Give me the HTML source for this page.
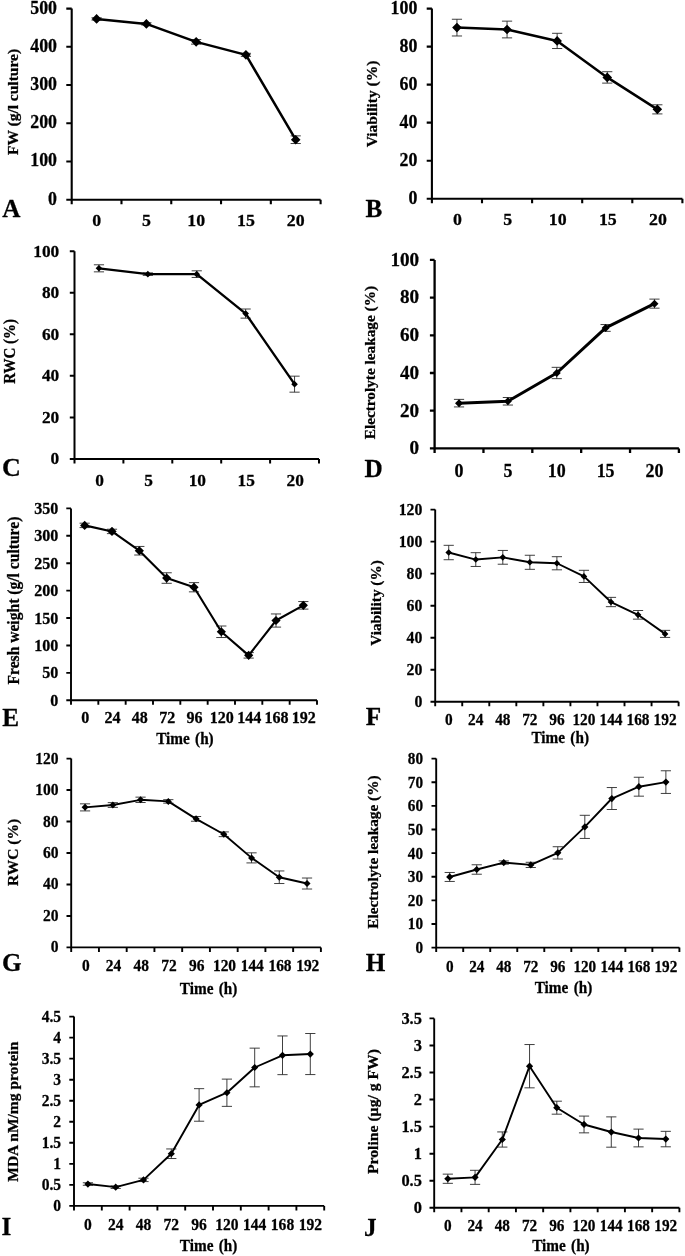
<!DOCTYPE html>
<html lang="en"><head><meta charset="utf-8"><title>Figure</title>
<style>html,body{margin:0;padding:0;background:#fff}svg{display:block;filter:blur(0.5px)}</style>
</head><body>
<svg width="685" height="1256" viewBox="0 0 685 1256" font-family='"Liberation Serif", serif' font-weight="bold" fill="#000" stroke="#000" stroke-width="0.28" stroke-linejoin="round">
<g id="panelA">
<path d="M71.70 8.60V199.70H320.60" fill="none" stroke="#000" stroke-width="2.1"/>
<text transform="translate(57.00 204.61) scale(0.95 1)" text-anchor="end" font-size="18.8">0</text>
<text transform="translate(57.00 166.39) scale(0.95 1)" text-anchor="end" font-size="18.8">100</text>
<text transform="translate(57.00 128.17) scale(0.95 1)" text-anchor="end" font-size="18.8">200</text>
<text transform="translate(57.00 89.95) scale(0.95 1)" text-anchor="end" font-size="18.8">300</text>
<text transform="translate(57.00 51.73) scale(0.95 1)" text-anchor="end" font-size="18.8">400</text>
<text transform="translate(57.00 13.51) scale(0.95 1)" text-anchor="end" font-size="18.8">500</text>
<path d="M66.30 199.70H71.70M66.30 161.48H71.70M66.30 123.26H71.70M66.30 85.04H71.70M66.30 46.82H71.70M66.30 8.60H71.70M71.70 199.70V204.20M121.48 199.70V204.20M171.26 199.70V204.20M221.04 199.70V204.20M270.82 199.70V204.20M320.60 199.70V204.20" fill="none" stroke="#000" stroke-width="2.1"/>
<text transform="translate(96.59 225.50) scale(1.02 1)" text-anchor="middle" font-size="17.5">0</text>
<text transform="translate(146.37 225.50) scale(1.02 1)" text-anchor="middle" font-size="17.5">5</text>
<text transform="translate(196.15 225.50) scale(1.02 1)" text-anchor="middle" font-size="17.5">10</text>
<text transform="translate(245.93 225.50) scale(1.02 1)" text-anchor="middle" font-size="17.5">15</text>
<text transform="translate(295.71 225.50) scale(1.02 1)" text-anchor="middle" font-size="17.5">20</text>
<path d="M96.59 17.77V20.07M91.49 17.77H101.69M91.49 20.07H101.69M146.37 22.74V25.03M141.27 22.74H151.47M141.27 25.03H151.47M196.15 39.56V44.14M191.05 39.56H201.25M191.05 44.14H201.25M245.93 53.32V56.38M240.83 53.32H251.03M240.83 56.38H251.03M295.71 135.87V143.52M290.61 135.87H300.81M290.61 143.52H300.81" fill="none" stroke="#2a2a2a" stroke-width="0.9"/>
<polyline points="96.59,18.92 146.37,23.89 196.15,41.85 245.93,54.85 295.71,139.69" fill="none" stroke="#000" stroke-width="2.5" stroke-linejoin="round"/>
<path d="M91.79 18.92L96.59 14.12L101.39 18.92L96.59 23.72ZM141.57 23.89L146.37 19.09L151.17 23.89L146.37 28.69ZM191.35 41.85L196.15 37.05L200.95 41.85L196.15 46.65ZM241.13 54.85L245.93 50.05L250.73 54.85L245.93 59.65ZM290.91 139.69L295.71 134.89L300.51 139.69L295.71 144.49Z" fill="#000" stroke="none"/>
<text transform="translate(17.70 102.00) rotate(-90) scale(1 0.97)" text-anchor="middle" font-size="15.5">FW (g/l culture)</text>
<text x="2.3" y="216.9" font-size="25.2">A</text>
</g>
<g id="panelB">
<path d="M431.90 8.60V198.70H682.40" fill="none" stroke="#000" stroke-width="2.1"/>
<text transform="translate(417.40 203.61) scale(0.95 1)" text-anchor="end" font-size="18.8">0</text>
<text transform="translate(417.40 165.59) scale(0.95 1)" text-anchor="end" font-size="18.8">20</text>
<text transform="translate(417.40 127.57) scale(0.95 1)" text-anchor="end" font-size="18.8">40</text>
<text transform="translate(417.40 89.55) scale(0.95 1)" text-anchor="end" font-size="18.8">60</text>
<text transform="translate(417.40 51.53) scale(0.95 1)" text-anchor="end" font-size="18.8">80</text>
<text transform="translate(417.40 13.51) scale(0.95 1)" text-anchor="end" font-size="18.8">100</text>
<path d="M426.70 198.70H431.90M426.70 160.68H431.90M426.70 122.66H431.90M426.70 84.64H431.90M426.70 46.62H431.90M426.70 8.60H431.90M431.90 198.70V203.20M482.00 198.70V203.20M532.10 198.70V203.20M582.20 198.70V203.20M632.30 198.70V203.20M682.40 198.70V203.20" fill="none" stroke="#000" stroke-width="2.1"/>
<text transform="translate(457.55 224.50) scale(1.02 1)" text-anchor="middle" font-size="17.5">0</text>
<text transform="translate(507.65 224.50) scale(1.02 1)" text-anchor="middle" font-size="17.5">5</text>
<text transform="translate(557.75 224.50) scale(1.02 1)" text-anchor="middle" font-size="17.5">10</text>
<text transform="translate(607.85 224.50) scale(1.02 1)" text-anchor="middle" font-size="17.5">15</text>
<text transform="translate(657.95 224.50) scale(1.02 1)" text-anchor="middle" font-size="17.5">20</text>
<path d="M456.95 19.25V35.97M451.85 19.25H462.05M451.85 35.97H462.05M507.05 21.15V37.88M501.95 21.15H512.15M501.95 37.88H512.15M557.15 33.31V48.52M552.05 33.31H562.25M552.05 48.52H562.25M607.25 71.71V83.12M602.15 71.71H612.35M602.15 83.12H612.35M657.35 104.79V113.92M652.25 104.79H662.45M652.25 113.92H662.45" fill="none" stroke="#2a2a2a" stroke-width="0.9"/>
<polyline points="456.95,27.61 507.05,29.51 557.15,40.92 607.25,77.42 657.35,109.35" fill="none" stroke="#000" stroke-width="2.5" stroke-linejoin="round"/>
<path d="M452.15 27.61L456.95 22.81L461.75 27.61L456.95 32.41ZM502.25 29.51L507.05 24.71L511.85 29.51L507.05 34.31ZM552.35 40.92L557.15 36.12L561.95 40.92L557.15 45.72ZM602.45 77.42L607.25 72.62L612.05 77.42L607.25 82.22ZM652.55 109.35L657.35 104.55L662.15 109.35L657.35 114.15Z" fill="#000" stroke="none"/>
<text transform="translate(377.30 104.00) rotate(-90) scale(1 0.94)" text-anchor="middle" font-size="15.5">Viability (%)</text>
<text x="365.5" y="216.9" font-size="25.2">B</text>
</g>
<g id="panelC">
<path d="M74.50 251.30V458.90H319.00" fill="none" stroke="#000" stroke-width="2.0"/>
<text transform="translate(59.20 464.39) scale(0.99 1)" text-anchor="end" font-size="17.5">0</text>
<text transform="translate(59.20 422.87) scale(0.99 1)" text-anchor="end" font-size="17.5">20</text>
<text transform="translate(59.20 381.35) scale(0.99 1)" text-anchor="end" font-size="17.5">40</text>
<text transform="translate(59.20 339.83) scale(0.99 1)" text-anchor="end" font-size="17.5">60</text>
<text transform="translate(59.20 298.31) scale(0.99 1)" text-anchor="end" font-size="17.5">80</text>
<text transform="translate(59.20 256.79) scale(0.99 1)" text-anchor="end" font-size="17.5">100</text>
<path d="M69.80 458.90H74.50M69.80 417.38H74.50M69.80 375.86H74.50M69.80 334.34H74.50M69.80 292.82H74.50M69.80 251.30H74.50M74.50 458.90V463.40M123.40 458.90V463.40M172.30 458.90V463.40M221.20 458.90V463.40M270.10 458.90V463.40M319.00 458.90V463.40" fill="none" stroke="#000" stroke-width="2.0"/>
<text transform="translate(99.55 485.50) scale(0.99 1)" text-anchor="middle" font-size="17.5">0</text>
<text transform="translate(148.45 485.50) scale(0.99 1)" text-anchor="middle" font-size="17.5">5</text>
<text transform="translate(197.35 485.50) scale(0.99 1)" text-anchor="middle" font-size="17.5">10</text>
<text transform="translate(246.25 485.50) scale(0.99 1)" text-anchor="middle" font-size="17.5">15</text>
<text transform="translate(295.15 485.50) scale(0.99 1)" text-anchor="middle" font-size="17.5">20</text>
<path d="M98.95 264.79V271.85M93.85 264.79H104.05M93.85 271.85H104.05M147.85 272.89V275.38M142.75 272.89H152.95M142.75 275.38H152.95M196.75 270.81V277.46M191.65 270.81H201.85M191.65 277.46H201.85M245.65 309.01V318.15M240.55 309.01H250.75M240.55 318.15H250.75M294.55 376.17V392.16M289.45 376.17H299.65M289.45 392.16H299.65" fill="none" stroke="#2a2a2a" stroke-width="0.9"/>
<polyline points="98.95,268.32 147.85,274.14 196.75,274.14 245.65,313.58 294.55,384.16" fill="none" stroke="#000" stroke-width="2.4" stroke-linejoin="round"/>
<path d="M95.65 268.32L98.95 265.02L102.25 268.32L98.95 271.62ZM144.55 274.14L147.85 270.84L151.15 274.14L147.85 277.44ZM193.45 274.14L196.75 270.84L200.05 274.14L196.75 277.44ZM242.35 313.58L245.65 310.28L248.95 313.58L245.65 316.88ZM291.25 384.16L294.55 380.86L297.85 384.16L294.55 387.46Z" fill="#000" stroke="none"/>
<text transform="translate(14.70 351.40) rotate(-90) scale(1 1.06)" text-anchor="middle" font-size="15">RWC (%)</text>
<text x="2.0" y="476.2" font-size="26.0">C</text>
</g>
<g id="panelD">
<path d="M434.60 259.90V448.40H678.90" fill="none" stroke="#000" stroke-width="2.3"/>
<text transform="translate(419.10 454.26) scale(0.98 1)" text-anchor="end" font-size="19.5">0</text>
<text transform="translate(419.10 416.56) scale(0.98 1)" text-anchor="end" font-size="19.5">20</text>
<text transform="translate(419.10 378.86) scale(0.98 1)" text-anchor="end" font-size="19.5">40</text>
<text transform="translate(419.10 341.16) scale(0.98 1)" text-anchor="end" font-size="19.5">60</text>
<text transform="translate(419.10 303.46) scale(0.98 1)" text-anchor="end" font-size="19.5">80</text>
<text transform="translate(419.10 265.76) scale(0.98 1)" text-anchor="end" font-size="19.5">100</text>
<path d="M429.90 448.40H434.60M429.90 410.70H434.60M429.90 373.00H434.60M429.90 335.30H434.60M429.90 297.60H434.60M429.90 259.90H434.60M434.60 448.40V452.90M483.46 448.40V452.90M532.32 448.40V452.90M581.18 448.40V452.90M630.04 448.40V452.90M678.90 448.40V452.90" fill="none" stroke="#000" stroke-width="2.3"/>
<text transform="translate(459.03 476.60) scale(0.98 1)" text-anchor="middle" font-size="18.3">0</text>
<text transform="translate(507.89 476.60) scale(0.98 1)" text-anchor="middle" font-size="18.3">5</text>
<text transform="translate(556.75 476.60) scale(0.98 1)" text-anchor="middle" font-size="18.3">10</text>
<text transform="translate(605.61 476.60) scale(0.98 1)" text-anchor="middle" font-size="18.3">15</text>
<text transform="translate(654.47 476.60) scale(0.98 1)" text-anchor="middle" font-size="18.3">20</text>
<path d="M459.03 399.39V406.93M453.93 399.39H464.13M453.93 406.93H464.13M507.89 397.50V405.04M502.79 397.50H512.99M502.79 405.04H512.99M556.75 367.34V378.65M551.65 367.34H561.85M551.65 378.65H561.85M605.61 324.56V331.34M600.51 324.56H610.71M600.51 331.34H610.71M654.47 299.11V308.16M649.37 299.11H659.57M649.37 308.16H659.57" fill="none" stroke="#2a2a2a" stroke-width="0.9"/>
<polyline points="459.03,403.16 507.89,401.27 556.75,373.00 605.61,327.95 654.47,303.63" fill="none" stroke="#000" stroke-width="3.0" stroke-linejoin="round"/>
<path d="M455.03 403.16L459.03 399.16L463.03 403.16L459.03 407.16ZM503.89 401.27L507.89 397.27L511.89 401.27L507.89 405.27ZM552.75 373.00L556.75 369.00L560.75 373.00L556.75 377.00ZM601.61 327.95L605.61 323.95L609.61 327.95L605.61 331.95ZM650.47 303.63L654.47 299.63L658.47 303.63L654.47 307.63Z" fill="#000" stroke="none"/>
<text transform="translate(374.70 362.60) rotate(-90) scale(1 0.91)" text-anchor="middle" font-size="15.3">Electrolyte leakage (%)</text>
<text x="364.4" y="476.9" font-size="25.2">D</text>
</g>
<g id="panelE">
<path d="M71.00 508.40V700.30H317.00" fill="none" stroke="#000" stroke-width="1.9"/>
<text transform="translate(58.40 705.87) scale(0.98 1)" text-anchor="end" font-size="16.4">0</text>
<text transform="translate(58.40 678.46) scale(0.98 1)" text-anchor="end" font-size="16.4">50</text>
<text transform="translate(58.40 651.05) scale(0.98 1)" text-anchor="end" font-size="16.4">100</text>
<text transform="translate(58.40 623.63) scale(0.98 1)" text-anchor="end" font-size="16.4">150</text>
<text transform="translate(58.40 596.22) scale(0.98 1)" text-anchor="end" font-size="16.4">200</text>
<text transform="translate(58.40 568.80) scale(0.98 1)" text-anchor="end" font-size="16.4">250</text>
<text transform="translate(58.40 541.39) scale(0.98 1)" text-anchor="end" font-size="16.4">300</text>
<text transform="translate(58.40 513.97) scale(0.98 1)" text-anchor="end" font-size="16.4">350</text>
<path d="M66.30 700.30H71.00M66.30 672.89H71.00M66.30 645.47H71.00M66.30 618.06H71.00M66.30 590.64H71.00M66.30 563.23H71.00M66.30 535.81H71.00M66.30 508.40H71.00M71.00 700.30V704.80M98.33 700.30V704.80M125.67 700.30V704.80M153.00 700.30V704.80M180.33 700.30V704.80M207.67 700.30V704.80M235.00 700.30V704.80M262.33 700.30V704.80M289.67 700.30V704.80M317.00 700.30V704.80" fill="none" stroke="#000" stroke-width="1.9"/>
<text transform="translate(85.17 723.40) scale(0.98 1)" text-anchor="middle" font-size="16.4">0</text>
<text transform="translate(112.50 723.40) scale(0.98 1)" text-anchor="middle" font-size="16.4">24</text>
<text transform="translate(139.83 723.40) scale(0.98 1)" text-anchor="middle" font-size="16.4">48</text>
<text transform="translate(167.17 723.40) scale(0.98 1)" text-anchor="middle" font-size="16.4">72</text>
<text transform="translate(194.50 723.40) scale(0.98 1)" text-anchor="middle" font-size="16.4">96</text>
<text transform="translate(221.83 723.40) scale(0.98 1)" text-anchor="middle" font-size="16.4">120</text>
<text transform="translate(249.17 723.40) scale(0.98 1)" text-anchor="middle" font-size="16.4">144</text>
<text transform="translate(276.50 723.40) scale(0.98 1)" text-anchor="middle" font-size="16.4">168</text>
<text transform="translate(303.83 723.40) scale(0.98 1)" text-anchor="middle" font-size="16.4">192</text>
<path d="M84.67 523.20V527.59M79.57 523.20H89.77M79.57 527.59H89.77M112.00 529.23V533.62M106.90 529.23H117.10M106.90 533.62H117.10M139.33 546.45V555.00M134.23 546.45H144.43M134.23 555.00H144.43M166.67 572.77V583.30M161.57 572.77H171.77M161.57 583.30H171.77M194.00 582.64V591.85M188.90 582.64H199.10M188.90 591.85H199.10M221.33 626.01V637.52M216.23 626.01H226.43M216.23 637.52H226.43M248.67 652.60V658.08M243.57 652.60H253.77M243.57 658.08H253.77M276.00 613.94V627.10M270.90 613.94H281.10M270.90 627.10H281.10M303.33 601.55V609.12M298.23 601.55H308.43M298.23 609.12H308.43" fill="none" stroke="#2a2a2a" stroke-width="0.9"/>
<polyline points="84.67,525.40 112.00,531.43 139.33,550.73 166.67,578.03 194.00,587.24 221.33,631.76 248.67,655.34 276.00,620.52 303.33,605.34" fill="none" stroke="#000" stroke-width="2.1" stroke-linejoin="round"/>
<path d="M80.07 525.40L84.67 520.80L89.27 525.40L84.67 530.00ZM107.40 531.43L112.00 526.83L116.60 531.43L112.00 536.03ZM134.73 550.73L139.33 546.13L143.93 550.73L139.33 555.33ZM162.07 578.03L166.67 573.43L171.27 578.03L166.67 582.63ZM189.40 587.24L194.00 582.64L198.60 587.24L194.00 591.84ZM216.73 631.76L221.33 627.16L225.93 631.76L221.33 636.36ZM244.07 655.34L248.67 650.74L253.27 655.34L248.67 659.94ZM271.40 620.52L276.00 615.92L280.60 620.52L276.00 625.12ZM298.73 605.34L303.33 600.74L307.93 605.34L303.33 609.94Z" fill="#000" stroke="none"/>
<text transform="translate(19.00 600.60) rotate(-90) scale(1 1.06)" text-anchor="middle" font-size="15.6">Fresh weight (g/l culture)</text>
<text x="2.3" y="725.7" font-size="25.2">E</text>
<text transform="translate(184.9 743.7) scale(0.965 1)" text-anchor="middle" word-spacing="1.6" font-size="15.8">Time (h)</text>
</g>
<g id="panelF">
<path d="M435.20 509.60V701.80H678.60" fill="none" stroke="#000" stroke-width="1.9"/>
<text transform="translate(422.30 706.94) scale(0.9 1)" text-anchor="end" font-size="17.5">0</text>
<text transform="translate(422.30 674.90) scale(0.9 1)" text-anchor="end" font-size="17.5">20</text>
<text transform="translate(422.30 642.87) scale(0.9 1)" text-anchor="end" font-size="17.5">40</text>
<text transform="translate(422.30 610.84) scale(0.9 1)" text-anchor="end" font-size="17.5">60</text>
<text transform="translate(422.30 578.80) scale(0.9 1)" text-anchor="end" font-size="17.5">80</text>
<text transform="translate(422.30 546.77) scale(0.9 1)" text-anchor="end" font-size="17.5">100</text>
<text transform="translate(422.30 514.74) scale(0.9 1)" text-anchor="end" font-size="17.5">120</text>
<path d="M430.50 701.80H435.20M430.50 669.77H435.20M430.50 637.73H435.20M430.50 605.70H435.20M430.50 573.67H435.20M430.50 541.63H435.20M430.50 509.60H435.20M435.20 701.80V706.30M462.24 701.80V706.30M489.29 701.80V706.30M516.33 701.80V706.30M543.38 701.80V706.30M570.42 701.80V706.30M597.47 701.80V706.30M624.51 701.80V706.30M651.56 701.80V706.30M678.60 701.80V706.30" fill="none" stroke="#000" stroke-width="1.9"/>
<text transform="translate(448.72 724.60) scale(0.924 1)" text-anchor="middle" font-size="16.6">0</text>
<text transform="translate(475.77 724.60) scale(0.924 1)" text-anchor="middle" font-size="16.6">24</text>
<text transform="translate(502.81 724.60) scale(0.924 1)" text-anchor="middle" font-size="16.6">48</text>
<text transform="translate(529.86 724.60) scale(0.924 1)" text-anchor="middle" font-size="16.6">72</text>
<text transform="translate(556.90 724.60) scale(0.924 1)" text-anchor="middle" font-size="16.6">96</text>
<text transform="translate(583.94 724.60) scale(0.924 1)" text-anchor="middle" font-size="16.6">120</text>
<text transform="translate(610.99 724.60) scale(0.924 1)" text-anchor="middle" font-size="16.6">144</text>
<text transform="translate(638.03 724.60) scale(0.924 1)" text-anchor="middle" font-size="16.6">168</text>
<text transform="translate(665.08 724.60) scale(0.924 1)" text-anchor="middle" font-size="16.6">192</text>
<path d="M448.72 545.32V559.73M443.62 545.32H453.82M443.62 559.73H453.82M475.77 552.68V566.46M470.67 552.68H480.87M470.67 566.46H480.87M502.81 550.44V564.22M497.71 550.44H507.91M497.71 564.22H507.91M529.86 555.25V569.34M524.76 555.25H534.96M524.76 569.34H534.96M556.90 556.69V569.82M551.80 556.69H562.00M551.80 569.82H562.00M583.94 570.30V582.48M578.84 570.30H589.04M578.84 582.48H589.04M610.99 597.37V606.66M605.89 597.37H616.09M605.89 606.66H616.09M638.03 610.50V619.15M632.93 610.50H643.13M632.93 619.15H643.13M665.08 630.37V637.41M659.98 630.37H670.18M659.98 637.41H670.18" fill="none" stroke="#2a2a2a" stroke-width="0.9"/>
<polyline points="448.72,552.52 475.77,559.57 502.81,557.33 529.86,562.29 556.90,563.26 583.94,576.39 610.99,602.02 638.03,614.83 665.08,633.89" fill="none" stroke="#000" stroke-width="1.9" stroke-linejoin="round"/>
<path d="M445.42 552.52L448.72 549.22L452.02 552.52L448.72 555.82ZM472.47 559.57L475.77 556.27L479.07 559.57L475.77 562.87ZM499.51 557.33L502.81 554.03L506.11 557.33L502.81 560.63ZM526.56 562.29L529.86 558.99L533.16 562.29L529.86 565.59ZM553.60 563.26L556.90 559.96L560.20 563.26L556.90 566.56ZM580.64 576.39L583.94 573.09L587.24 576.39L583.94 579.69ZM607.69 602.02L610.99 598.72L614.29 602.02L610.99 605.32ZM634.73 614.83L638.03 611.53L641.33 614.83L638.03 618.13ZM661.78 633.89L665.08 630.59L668.38 633.89L665.08 637.19Z" fill="#000" stroke="none"/>
<text transform="translate(380.50 603.00) rotate(-90) scale(1 0.95)" text-anchor="middle" font-size="15.3">Viability (%)</text>
<text x="365.7" y="724.6" font-size="25.2">F</text>
<text transform="translate(560.2 743) scale(0.965 1)" text-anchor="middle" word-spacing="1.6" font-size="15.8">Time (h)</text>
</g>
<g id="panelG">
<path d="M71.20 758.60V947.40H320.90" fill="none" stroke="#000" stroke-width="1.9"/>
<text transform="translate(58.50 952.42) scale(0.885 1)" text-anchor="end" font-size="17.6">0</text>
<text transform="translate(58.50 920.95) scale(0.885 1)" text-anchor="end" font-size="17.6">20</text>
<text transform="translate(58.50 889.48) scale(0.885 1)" text-anchor="end" font-size="17.6">40</text>
<text transform="translate(58.50 858.02) scale(0.885 1)" text-anchor="end" font-size="17.6">60</text>
<text transform="translate(58.50 826.55) scale(0.885 1)" text-anchor="end" font-size="17.6">80</text>
<text transform="translate(58.50 795.08) scale(0.885 1)" text-anchor="end" font-size="17.6">100</text>
<text transform="translate(58.50 763.62) scale(0.885 1)" text-anchor="end" font-size="17.6">120</text>
<path d="M66.50 947.40H71.20M66.50 915.93H71.20M66.50 884.47H71.20M66.50 853.00H71.20M66.50 821.53H71.20M66.50 790.07H71.20M66.50 758.60H71.20M71.20 947.40V951.90M98.94 947.40V951.90M126.69 947.40V951.90M154.43 947.40V951.90M182.18 947.40V951.90M209.92 947.40V951.90M237.67 947.40V951.90M265.41 947.40V951.90M293.16 947.40V951.90M320.90 947.40V951.90" fill="none" stroke="#000" stroke-width="1.9"/>
<text transform="translate(85.77 971.30) scale(0.936 1)" text-anchor="middle" font-size="16.5">0</text>
<text transform="translate(113.52 971.30) scale(0.936 1)" text-anchor="middle" font-size="16.5">24</text>
<text transform="translate(141.26 971.30) scale(0.936 1)" text-anchor="middle" font-size="16.5">48</text>
<text transform="translate(169.01 971.30) scale(0.936 1)" text-anchor="middle" font-size="16.5">72</text>
<text transform="translate(196.75 971.30) scale(0.936 1)" text-anchor="middle" font-size="16.5">96</text>
<text transform="translate(224.49 971.30) scale(0.936 1)" text-anchor="middle" font-size="16.5">120</text>
<text transform="translate(252.24 971.30) scale(0.936 1)" text-anchor="middle" font-size="16.5">144</text>
<text transform="translate(279.98 971.30) scale(0.936 1)" text-anchor="middle" font-size="16.5">168</text>
<text transform="translate(307.73 971.30) scale(0.936 1)" text-anchor="middle" font-size="16.5">192</text>
<path d="M85.07 803.83V810.91M79.97 803.83H90.17M79.97 810.91H90.17M112.82 802.65V807.37M107.72 802.65H117.92M107.72 807.37H117.92M140.56 797.15V802.50M135.46 797.15H145.66M135.46 802.50H145.66M168.31 799.66V803.13M163.21 799.66H173.41M163.21 803.13H173.41M196.05 816.50V821.22M190.95 816.50H201.15M190.95 821.22H201.15M223.79 831.92V836.64M218.69 831.92H228.89M218.69 836.64H228.89M251.54 852.84V862.91M246.44 852.84H256.64M246.44 862.91H256.64M279.28 870.94V883.52M274.18 870.94H284.38M274.18 883.52H284.38M307.03 878.02V889.03M301.93 878.02H312.13M301.93 889.03H312.13" fill="none" stroke="#2a2a2a" stroke-width="0.9"/>
<polyline points="85.07,807.37 112.82,805.01 140.56,799.82 168.31,801.39 196.05,818.86 223.79,834.28 251.54,857.88 279.28,877.23 307.03,883.52" fill="none" stroke="#000" stroke-width="1.9" stroke-linejoin="round"/>
<path d="M81.57 807.37L85.07 803.87L88.57 807.37L85.07 810.87ZM109.32 805.01L112.82 801.51L116.32 805.01L112.82 808.51ZM137.06 799.82L140.56 796.32L144.06 799.82L140.56 803.32ZM164.81 801.39L168.31 797.89L171.81 801.39L168.31 804.89ZM192.55 818.86L196.05 815.36L199.55 818.86L196.05 822.36ZM220.29 834.28L223.79 830.78L227.29 834.28L223.79 837.78ZM248.04 857.88L251.54 854.38L255.04 857.88L251.54 861.38ZM275.78 877.23L279.28 873.73L282.78 877.23L279.28 880.73ZM303.53 883.52L307.03 880.02L310.53 883.52L307.03 887.02Z" fill="#000" stroke="none"/>
<text transform="translate(18.40 852.40) rotate(-90) scale(1 1.0)" text-anchor="middle" font-size="15.5">RWC (%)</text>
<text x="2.0" y="971.4" font-size="25.2">G</text>
<text transform="translate(208.6 993.7) scale(0.965 1)" text-anchor="middle" word-spacing="1.6" font-size="15.8">Time (h)</text>
</g>
<g id="panelH">
<path d="M436.20 758.60V947.60H679.40" fill="none" stroke="#000" stroke-width="1.9"/>
<text transform="translate(423.00 953.12) scale(0.895 1)" text-anchor="end" font-size="17.0">0</text>
<text transform="translate(423.00 929.49) scale(0.895 1)" text-anchor="end" font-size="17.0">10</text>
<text transform="translate(423.00 905.87) scale(0.895 1)" text-anchor="end" font-size="17.0">20</text>
<text transform="translate(423.00 882.24) scale(0.895 1)" text-anchor="end" font-size="17.0">30</text>
<text transform="translate(423.00 858.62) scale(0.895 1)" text-anchor="end" font-size="17.0">40</text>
<text transform="translate(423.00 834.99) scale(0.895 1)" text-anchor="end" font-size="17.0">50</text>
<text transform="translate(423.00 811.37) scale(0.895 1)" text-anchor="end" font-size="17.0">60</text>
<text transform="translate(423.00 787.74) scale(0.895 1)" text-anchor="end" font-size="17.0">70</text>
<text transform="translate(423.00 764.12) scale(0.895 1)" text-anchor="end" font-size="17.0">80</text>
<path d="M431.50 947.60H436.20M431.50 923.98H436.20M431.50 900.35H436.20M431.50 876.73H436.20M431.50 853.10H436.20M431.50 829.48H436.20M431.50 805.85H436.20M431.50 782.23H436.20M431.50 758.60H436.20M436.20 947.60V952.10M463.22 947.60V952.10M490.24 947.60V952.10M517.27 947.60V952.10M544.29 947.60V952.10M571.31 947.60V952.10M598.33 947.60V952.10M625.36 947.60V952.10M652.38 947.60V952.10M679.40 947.60V952.10" fill="none" stroke="#000" stroke-width="1.9"/>
<text transform="translate(449.71 971.60) scale(0.895 1)" text-anchor="middle" font-size="17.0">0</text>
<text transform="translate(476.73 971.60) scale(0.895 1)" text-anchor="middle" font-size="17.0">24</text>
<text transform="translate(503.76 971.60) scale(0.895 1)" text-anchor="middle" font-size="17.0">48</text>
<text transform="translate(530.78 971.60) scale(0.895 1)" text-anchor="middle" font-size="17.0">72</text>
<text transform="translate(557.80 971.60) scale(0.895 1)" text-anchor="middle" font-size="17.0">96</text>
<text transform="translate(584.82 971.60) scale(0.895 1)" text-anchor="middle" font-size="17.0">120</text>
<text transform="translate(611.84 971.60) scale(0.895 1)" text-anchor="middle" font-size="17.0">144</text>
<text transform="translate(638.87 971.60) scale(0.895 1)" text-anchor="middle" font-size="17.0">168</text>
<text transform="translate(665.89 971.60) scale(0.895 1)" text-anchor="middle" font-size="17.0">192</text>
<path d="M449.71 872.47V881.45M444.61 872.47H454.81M444.61 881.45H454.81M476.73 864.77V874.22M471.63 864.77H481.83M471.63 874.22H481.83M503.76 860.90V864.20M498.66 860.90H508.86M498.66 864.20H508.86M530.78 862.31V867.51M525.68 862.31H535.88M525.68 867.51H535.88M557.80 846.72V859.01M552.70 846.72H562.90M552.70 859.01H562.90M584.82 815.30V838.45M579.72 815.30H589.92M579.72 838.45H589.92M611.84 787.54V809.51M606.74 787.54H616.94M606.74 809.51H616.94M638.87 777.26V796.16M633.77 777.26H643.97M633.77 796.16H643.97M665.89 770.77V793.45M660.79 770.77H670.99M660.79 793.45H670.99" fill="none" stroke="#2a2a2a" stroke-width="0.9"/>
<polyline points="449.71,876.96 476.73,869.50 503.76,862.55 530.78,864.91 557.80,852.86 584.82,826.88 611.84,798.53 638.87,786.71 665.89,782.11" fill="none" stroke="#000" stroke-width="1.9" stroke-linejoin="round"/>
<path d="M446.11 876.96L449.71 873.36L453.31 876.96L449.71 880.56ZM473.13 869.50L476.73 865.90L480.33 869.50L476.73 873.10ZM500.16 862.55L503.76 858.95L507.36 862.55L503.76 866.15ZM527.18 864.91L530.78 861.31L534.38 864.91L530.78 868.51ZM554.20 852.86L557.80 849.26L561.40 852.86L557.80 856.46ZM581.22 826.88L584.82 823.28L588.42 826.88L584.82 830.48ZM608.24 798.53L611.84 794.93L615.44 798.53L611.84 802.13ZM635.27 786.71L638.87 783.11L642.47 786.71L638.87 790.31ZM662.29 782.11L665.89 778.51L669.49 782.11L665.89 785.71Z" fill="#000" stroke="none"/>
<text transform="translate(378.30 852.10) rotate(-90) scale(1 0.935)" text-anchor="middle" font-size="15.3">Electrolyte leakage (%)</text>
<text x="365.7" y="971.4" font-size="25.2">H</text>
<text transform="translate(563.5 993) scale(0.965 1)" text-anchor="middle" word-spacing="1.6" font-size="15.8">Time (h)</text>
</g>
<g id="panelI">
<path d="M74.00 1016.60V1205.90H324.20" fill="none" stroke="#000" stroke-width="1.9"/>
<text transform="translate(61.10 1210.83) scale(0.9 1)" text-anchor="end" font-size="17.3">0</text>
<text transform="translate(61.10 1189.80) scale(0.9 1)" text-anchor="end" font-size="17.3">0.5</text>
<text transform="translate(61.10 1168.76) scale(0.9 1)" text-anchor="end" font-size="17.3">1</text>
<text transform="translate(61.10 1147.73) scale(0.9 1)" text-anchor="end" font-size="17.3">1.5</text>
<text transform="translate(61.10 1126.70) scale(0.9 1)" text-anchor="end" font-size="17.3">2</text>
<text transform="translate(61.10 1105.66) scale(0.9 1)" text-anchor="end" font-size="17.3">2.5</text>
<text transform="translate(61.10 1084.63) scale(0.9 1)" text-anchor="end" font-size="17.3">3</text>
<text transform="translate(61.10 1063.60) scale(0.9 1)" text-anchor="end" font-size="17.3">3.5</text>
<text transform="translate(61.10 1042.56) scale(0.9 1)" text-anchor="end" font-size="17.3">4</text>
<text transform="translate(61.10 1021.53) scale(0.9 1)" text-anchor="end" font-size="17.3">4.5</text>
<path d="M69.30 1205.90H74.00M69.30 1184.87H74.00M69.30 1163.83H74.00M69.30 1142.80H74.00M69.30 1121.77H74.00M69.30 1100.73H74.00M69.30 1079.70H74.00M69.30 1058.67H74.00M69.30 1037.63H74.00M69.30 1016.60H74.00M74.00 1205.90V1210.40M101.80 1205.90V1210.40M129.60 1205.90V1210.40M157.40 1205.90V1210.40M185.20 1205.90V1210.40M213.00 1205.90V1210.40M240.80 1205.90V1210.40M268.60 1205.90V1210.40M296.40 1205.90V1210.40M324.20 1205.90V1210.40" fill="none" stroke="#000" stroke-width="1.9"/>
<text transform="translate(87.90 1230.00) scale(0.9 1)" text-anchor="middle" font-size="17.3">0</text>
<text transform="translate(115.70 1230.00) scale(0.9 1)" text-anchor="middle" font-size="17.3">24</text>
<text transform="translate(143.50 1230.00) scale(0.9 1)" text-anchor="middle" font-size="17.3">48</text>
<text transform="translate(171.30 1230.00) scale(0.9 1)" text-anchor="middle" font-size="17.3">72</text>
<text transform="translate(199.10 1230.00) scale(0.9 1)" text-anchor="middle" font-size="17.3">96</text>
<text transform="translate(226.90 1230.00) scale(0.9 1)" text-anchor="middle" font-size="17.3">120</text>
<text transform="translate(254.70 1230.00) scale(0.9 1)" text-anchor="middle" font-size="17.3">144</text>
<text transform="translate(282.50 1230.00) scale(0.9 1)" text-anchor="middle" font-size="17.3">168</text>
<text transform="translate(310.30 1230.00) scale(0.9 1)" text-anchor="middle" font-size="17.3">192</text>
<path d="M87.90 1182.76V1185.29M82.80 1182.76H93.00M82.80 1185.29H93.00M115.70 1185.92V1188.44M110.60 1185.92H120.80M110.60 1188.44H120.80M143.50 1178.22V1181.59M138.40 1178.22H148.60M138.40 1181.59H148.60M171.30 1148.94V1158.53M166.20 1148.94H176.40M166.20 1158.53H176.40M199.10 1088.66V1121.22M194.00 1088.66H204.20M194.00 1121.22H204.20M226.90 1079.11V1106.37M221.80 1079.11H232.00M221.80 1106.37H232.00M254.70 1048.15V1086.85M249.60 1048.15H259.80M249.60 1086.85H259.80M282.50 1035.95V1074.65M277.40 1035.95H287.60M277.40 1074.65H287.60M310.30 1033.51V1074.57M305.20 1033.51H315.40M305.20 1074.57H315.40" fill="none" stroke="#2a2a2a" stroke-width="0.9"/>
<polyline points="87.90,1184.03 115.70,1187.18 143.50,1179.90 171.30,1153.74 199.10,1104.94 226.90,1092.74 254.70,1067.50 282.50,1055.30 310.30,1054.04" fill="none" stroke="#000" stroke-width="1.9" stroke-linejoin="round"/>
<path d="M84.30 1184.03L87.90 1180.43L91.50 1184.03L87.90 1187.63ZM112.10 1187.18L115.70 1183.58L119.30 1187.18L115.70 1190.78ZM139.90 1179.90L143.50 1176.30L147.10 1179.90L143.50 1183.50ZM167.70 1153.74L171.30 1150.14L174.90 1153.74L171.30 1157.34ZM195.50 1104.94L199.10 1101.34L202.70 1104.94L199.10 1108.54ZM223.30 1092.74L226.90 1089.14L230.50 1092.74L226.90 1096.34ZM251.10 1067.50L254.70 1063.90L258.30 1067.50L254.70 1071.10ZM278.90 1055.30L282.50 1051.70L286.10 1055.30L282.50 1058.90ZM306.70 1054.04L310.30 1050.44L313.90 1054.04L310.30 1057.64Z" fill="#000" stroke="none"/>
<text transform="translate(17.50 1111.70) rotate(-90) scale(1 0.9)" text-anchor="middle" font-size="15.5">MDA nM/mg protein</text>
<text x="1.4" y="1235.4" font-size="25.2">I</text>
<text transform="translate(208.6 1250.7) scale(0.965 1)" text-anchor="middle" word-spacing="1.6" font-size="15.8">Time (h)</text>
</g>
<g id="panelJ">
<path d="M434.20 1018.40V1207.80H679.40" fill="none" stroke="#000" stroke-width="1.9"/>
<text transform="translate(421.90 1213.13) scale(0.987 1)" text-anchor="end" font-size="16.6">0</text>
<text transform="translate(421.90 1186.07) scale(0.987 1)" text-anchor="end" font-size="16.6">0.5</text>
<text transform="translate(421.90 1159.02) scale(0.987 1)" text-anchor="end" font-size="16.6">1</text>
<text transform="translate(421.90 1131.96) scale(0.987 1)" text-anchor="end" font-size="16.6">1.5</text>
<text transform="translate(421.90 1104.90) scale(0.987 1)" text-anchor="end" font-size="16.6">2</text>
<text transform="translate(421.90 1077.85) scale(0.987 1)" text-anchor="end" font-size="16.6">2.5</text>
<text transform="translate(421.90 1050.79) scale(0.987 1)" text-anchor="end" font-size="16.6">3</text>
<text transform="translate(421.90 1023.73) scale(0.987 1)" text-anchor="end" font-size="16.6">3.5</text>
<path d="M429.50 1207.80H434.20M429.50 1180.74H434.20M429.50 1153.69H434.20M429.50 1126.63H434.20M429.50 1099.57H434.20M429.50 1072.51H434.20M429.50 1045.46H434.20M429.50 1018.40H434.20M434.20 1207.80V1212.30M461.44 1207.80V1212.30M488.69 1207.80V1212.30M515.93 1207.80V1212.30M543.18 1207.80V1212.30M570.42 1207.80V1212.30M597.67 1207.80V1212.30M624.91 1207.80V1212.30M652.16 1207.80V1212.30M679.40 1207.80V1212.30" fill="none" stroke="#000" stroke-width="1.9"/>
<text transform="translate(447.82 1230.60) scale(0.92 1)" text-anchor="middle" font-size="16.6">0</text>
<text transform="translate(475.07 1230.60) scale(0.92 1)" text-anchor="middle" font-size="16.6">24</text>
<text transform="translate(502.31 1230.60) scale(0.92 1)" text-anchor="middle" font-size="16.6">48</text>
<text transform="translate(529.56 1230.60) scale(0.92 1)" text-anchor="middle" font-size="16.6">72</text>
<text transform="translate(556.80 1230.60) scale(0.92 1)" text-anchor="middle" font-size="16.6">96</text>
<text transform="translate(584.04 1230.60) scale(0.92 1)" text-anchor="middle" font-size="16.6">120</text>
<text transform="translate(611.29 1230.60) scale(0.92 1)" text-anchor="middle" font-size="16.6">144</text>
<text transform="translate(638.53 1230.60) scale(0.92 1)" text-anchor="middle" font-size="16.6">168</text>
<text transform="translate(665.78 1230.60) scale(0.92 1)" text-anchor="middle" font-size="16.6">192</text>
<path d="M447.82 1174.14V1183.34M442.72 1174.14H452.92M442.72 1183.34H452.92M475.07 1170.30V1184.37M469.97 1170.30H480.17M469.97 1184.37H480.17M502.31 1131.93V1147.08M497.21 1131.93H507.41M497.21 1147.08H507.41M529.56 1044.54V1087.83M524.46 1044.54H534.66M524.46 1087.83H534.66M556.80 1101.19V1114.18M551.70 1101.19H561.90M551.70 1114.18H561.90M584.04 1116.08V1132.85M578.94 1116.08H589.14M578.94 1132.85H589.14M611.29 1116.89V1147.19M606.19 1116.89H616.39M606.19 1147.19H616.39M638.53 1129.12V1146.87M633.43 1129.12H643.63M633.43 1146.87H643.63M665.78 1131.34V1146.81M660.68 1131.34H670.88M660.68 1146.81H670.88" fill="none" stroke="#2a2a2a" stroke-width="0.9"/>
<polyline points="447.82,1178.74 475.07,1177.33 502.31,1139.51 529.56,1066.18 556.80,1107.69 584.04,1124.46 611.29,1132.04 638.53,1137.99 665.78,1139.07" fill="none" stroke="#000" stroke-width="1.9" stroke-linejoin="round"/>
<path d="M444.22 1178.74L447.82 1175.14L451.42 1178.74L447.82 1182.34ZM471.47 1177.33L475.07 1173.73L478.67 1177.33L475.07 1180.93ZM498.71 1139.51L502.31 1135.91L505.91 1139.51L502.31 1143.11ZM525.96 1066.18L529.56 1062.58L533.16 1066.18L529.56 1069.78ZM553.20 1107.69L556.80 1104.09L560.40 1107.69L556.80 1111.29ZM580.44 1124.46L584.04 1120.86L587.64 1124.46L584.04 1128.06ZM607.69 1132.04L611.29 1128.44L614.89 1132.04L611.29 1135.64ZM634.93 1137.99L638.53 1134.39L642.13 1137.99L638.53 1141.59ZM662.18 1139.07L665.78 1135.47L669.38 1139.07L665.78 1142.67Z" fill="#000" stroke="none"/>
<text transform="translate(378.20 1111.50) rotate(-90) scale(1 0.98)" text-anchor="middle" font-size="15.7">Proline (µg/ g FW)</text>
<text x="364" y="1236.0" font-size="25.2">J</text>
<text transform="translate(560.9 1250.7) scale(0.965 1)" text-anchor="middle" word-spacing="1.6" font-size="15.8">Time (h)</text>
</g>
</svg>
</body></html>
